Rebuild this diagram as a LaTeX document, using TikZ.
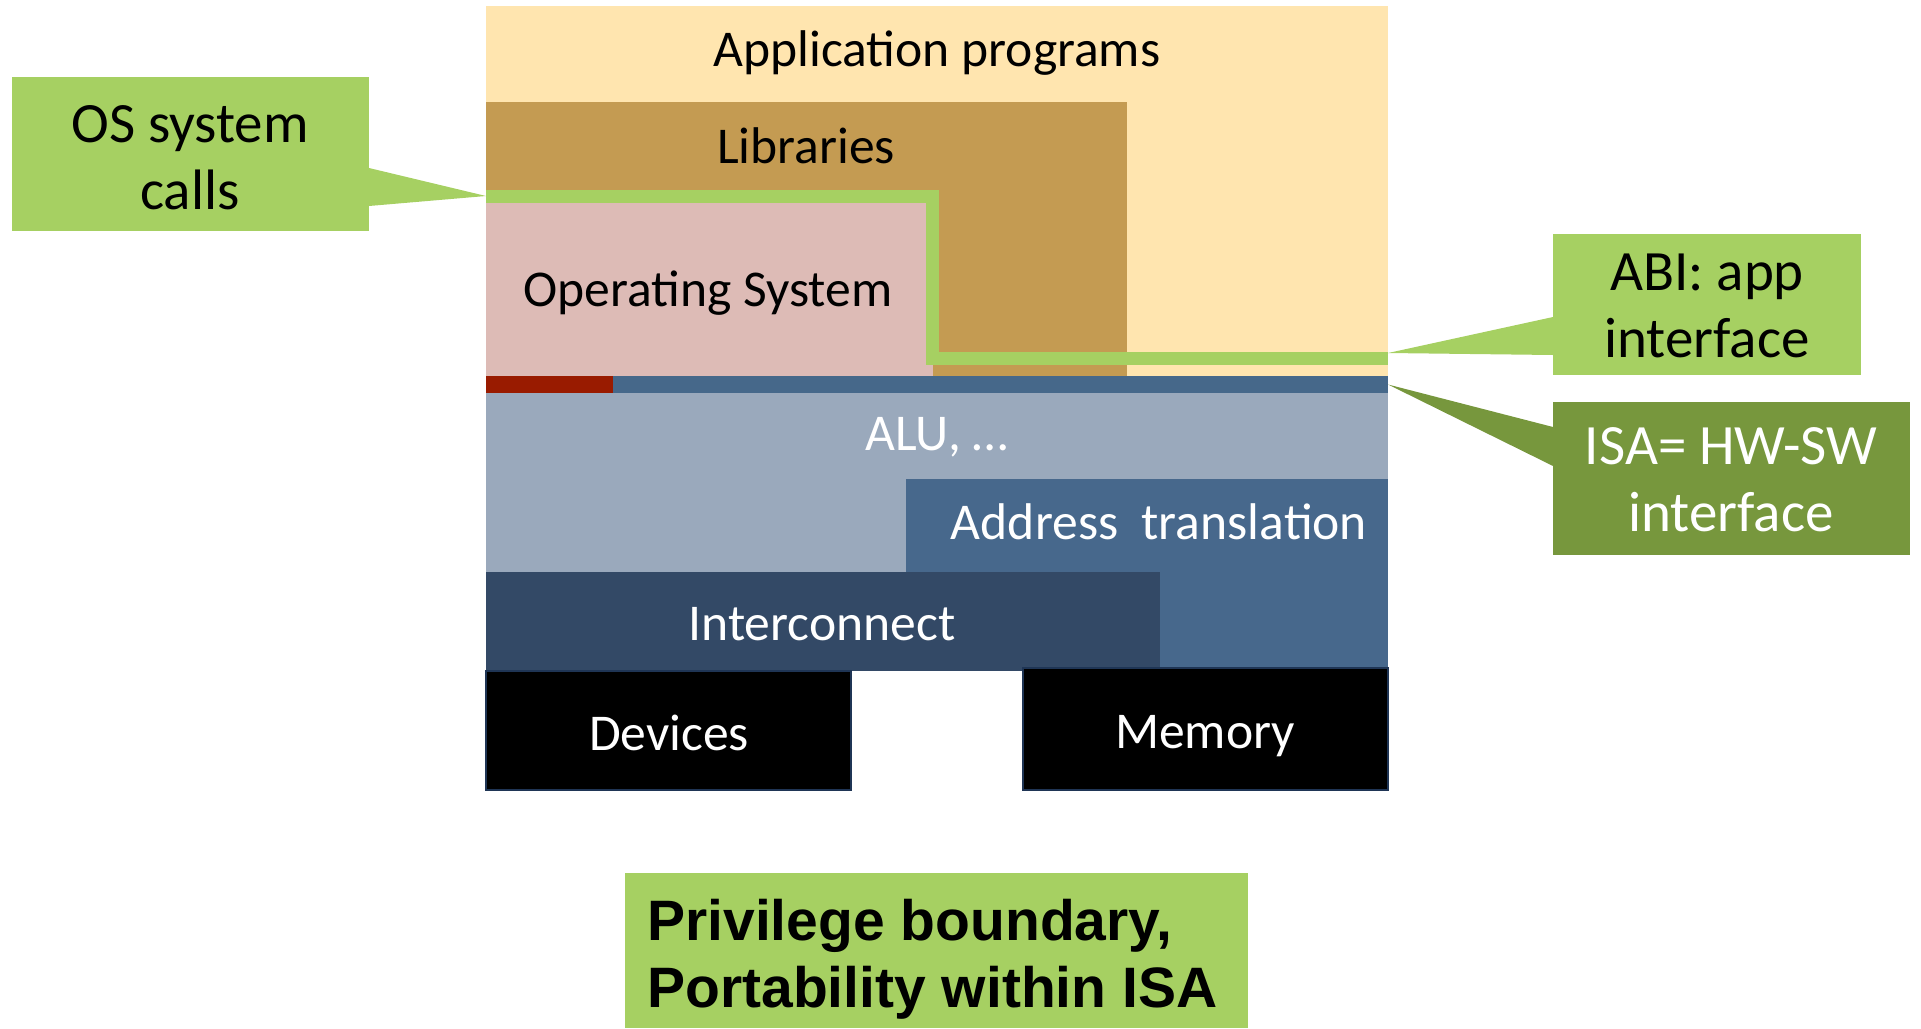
\documentclass[tikz,border=0pt]{standalone}
\usepackage{fontspec}
\setmainfont{Carlito}
\newfontfamily\arialfont{Liberation Sans}
\usetikzlibrary{fit}
\definecolor{appc}{RGB}{255,229,175}
\definecolor{libc}{RGB}{196,155,82}
\definecolor{osc}{RGB}{221,187,182}
\definecolor{greenc}{RGB}{166,208,98}
\definecolor{isac}{RGB}{119,151,61}
\definecolor{redc}{RGB}{153,27,0}
\definecolor{barc}{RGB}{70,104,138}
\definecolor{aluc}{RGB}{154,169,188}
\definecolor{addrc}{RGB}{71,104,140}
\definecolor{intc}{RGB}{51,73,102}
\definecolor{hwborder}{RGB}{31,53,85}
\begin{document}
\begin{tikzpicture}[x=0.5pt,y=-0.5pt,
  box/.style={inner sep=0pt, outer sep=0pt, draw=none},
  lbl/.style={font=\fontsize{25.8}{33.5}\selectfont, inner sep=0pt, align=center},
  clbl/.style={font=\fontsize{28.5}{33.5}\selectfont, inner sep=0pt, align=center},
  gline/.style={draw=greenc, line width=6.5pt, line join=miter},
  hwbox/.style={box, fill=black, draw=hwborder, line width=1pt}]
\useasboundingbox (0,0) rectangle (1921,1028);

% software stack
\node[box, fill=appc, fit={(486,6) (1388,376)}] (app) {};
\node[box, fill=libc, fit={(486,102) (1127,376)}] (lib) {};
\node[box, fill=osc, fit={(486,196) (933,376)}] (os) {};
\node[lbl] (appl) at (937,53) {Application programs};
\node[lbl] (libl) at (806,146) {Libraries};
\node[lbl] (osl) at (708,293) {Operating System};

% hardware stack
\node[box, fill=aluc, fit={(486,393) (1388,572)}] (alu) {};
\node[box, fill=barc, fit={(486,376) (1388,393)}] (bar) {};
\node[box, fill=redc, fit={(486,376) (613,393)}] (red) {};
\node[box, fill=addrc, fit={(906,479) (1388,671)}] (addr) {};
\node[box, fill=intc, fit={(486,572) (1160,671)}] (inter) {};
\node[hwbox, fit={(486,671) (851,790)}] (dev) {};
\node[hwbox, fit={(1023,668) (1388,790)}] (mem) {};
\node[lbl, text=white] (alul) at (937,437) {ALU, …};
\node[lbl, text=white] (addrl) at (1159,522) {Address\ \ translation};
\node[lbl, text=white] (interl) at (822,624) {Interconnect};
\node[lbl, text=white] (devl) at (669,733) {Devices};
\node[lbl, text=white] (meml) at (1205,736) {Memory};

% ABI line
\coordinate (gcorner) at (932,358);
\coordinate (gend) at (1388,358);
\draw[gline] (os.north west) -| (gcorner) -- (gend);

% callouts
\node[box, fill=greenc, fit={(12,77) (369,231)}] (oscall) {};
\node[clbl] (oscalll) at (190,158) {OS system\\calls};
\fill[greenc] (oscall.east |- 0,168) -- (os.north west) -- (oscall.east |- 0,206) -- cycle;

\node[box, fill=greenc, fit={(1553,234) (1861,375)}] (abi) {};
\node[clbl] (abil) at (1707,306) {ABI: app\\interface};
\fill[greenc] (abi.west |- 0,317) -- ([yshift=11.5pt]app.south east) -- (abi.west |- 0,355) -- cycle;

\node[box, fill=isac, fit={(1553,402) (1910,555)}] (isa) {};
\node[clbl, text=white] (isal) at (1731,480) {ISA= HW-SW\\interface};
\fill[isac] (isa.west |- 0,427) -- (bar.east) -- (isa.west |- 0,466) -- cycle;

% bottom note
\node[box, fill=greenc, fit={(625,873) (1248,1028)}] (note) {};
\node[inner sep=0pt, align=left, anchor=west, font=\arialfont\bfseries\fontsize{28.5}{33.5}\selectfont] (notel) at (647,959) {Privilege boundary,\\Portability within ISA};
\end{tikzpicture}
\end{document}
